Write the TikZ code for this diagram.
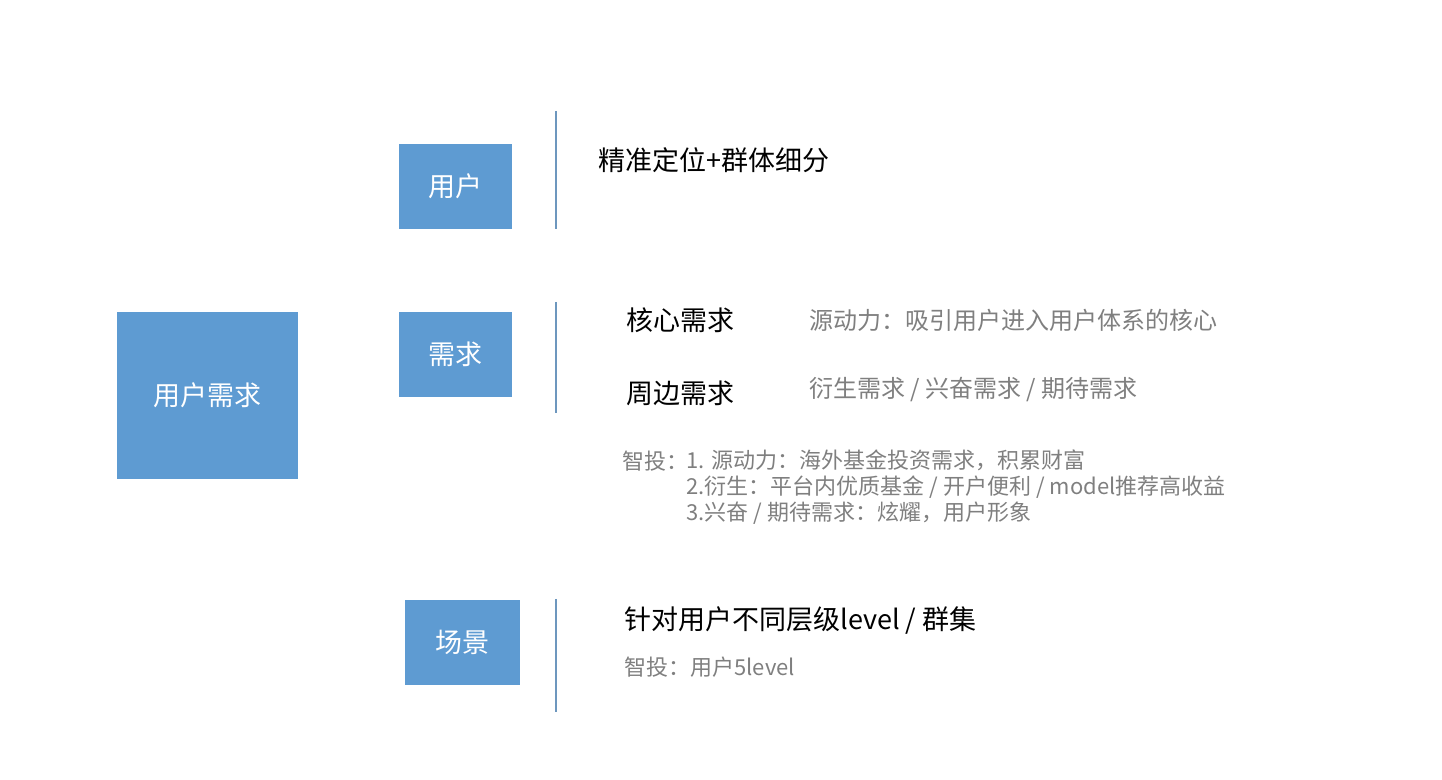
\documentclass[tikz,border=0pt]{standalone}
\usepackage{fontspec}
\setmainfont{Noto Sans CJK SC}
\definecolor{boxblue}{HTML}{5E9BD2}
\definecolor{lineblue}{HTML}{6D97BE}
\definecolor{textgray}{HTML}{7F7F7F}
\begin{document}
\begin{tikzpicture}[x=0.5pt,y=-0.5pt]
\tikzstyle{block}=[fill=boxblue, text=white, inner sep=0pt, font=\fontsize{13.5}{16}\selectfont]
\tikzstyle{head}=[anchor=west, inner sep=0pt, text=black, font=\fontsize{13.5}{16}\selectfont]
\tikzstyle{note}=[anchor=west, inner sep=0pt, text=textgray, font=\fontsize{12}{14}\selectfont]
\tikzstyle{small}=[anchor=west, inner sep=0pt, text=textgray, align=left, font=\fontsize{11}{13}\selectfont]
\tikzstyle{sep}=[draw=lineblue, line width=1pt]
\useasboundingbox (0,0) rectangle (1442,780);
% left block
\node[block, minimum width=90.5pt, minimum height=83.5pt] (mainnode) at (207.5,395.5) {用户需求};
% middle blocks
\node[block, minimum width=56.5pt, minimum height=42.5pt] (usernode) at (455.5,186.5) {用户};
\node[block, minimum width=56.5pt, minimum height=42.5pt] (neednode) at (455.5,354.5) {需求};
\node[block, minimum width=57.5pt, minimum height=42.5pt] (scenenode) at (462.5,642.5) {场景};
% separators
\coordinate (usertop) at (556,111);
\coordinate (userbot) at (556,229);
\coordinate (needtop) at (556,302);
\coordinate (needbot) at (556,413);
\coordinate (scenetop) at (556,599);
\coordinate (scenebot) at (556,712);
\draw[sep] (usertop) -- (userbot);
\draw[sep] (needtop) -- (needbot);
\draw[sep] (scenetop) -- (scenebot);
% texts
\node[head] (usertext) at (598,160) {精准定位+群体细分};
\node[head] (corehead) at (626,320) {核心需求};
\node[note] (corenote) at (809,320) {源动力：吸引用户进入用户体系的核心};
\node[head] (sidehead) at (626,393) {周边需求};
\node[note] (sidenote) at (809,390) {衍生需求 / 兴奋需求 / 期待需求};
\node[small] (casehead) at (622,461) {智投：};
\node[small] (caselist) at (686,487) {1. 源动力：海外基金投资需求，积累财富\\2.衍生：平台内优质基金 / 开户便利 / model推荐高收益\\3.兴奋 / 期待需求：炫耀，用户形象};
\node[head] (scenetext) at (624,621) {针对用户不同层级level / 群集};
\node[small] (scenenote) at (624,667) {智投：用户5level};
\end{tikzpicture}
\end{document}
